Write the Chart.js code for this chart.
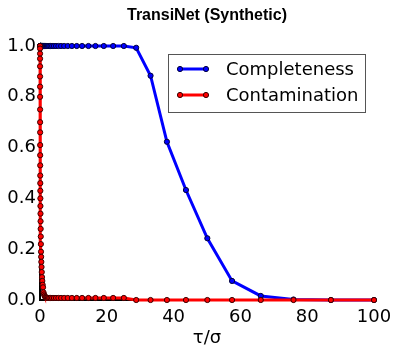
<!DOCTYPE html>
<html>
<head>
<meta charset="utf-8">
<script src="https://cdn.jsdelivr.net/npm/chart.js@4.4.1/dist/chart.umd.min.js"></script>
<style>
  body { margin: 0; background: #fff; }
  #grafica { display: block; }
</style>
</head>
<body>
<canvas id="grafica" width="399" height="354"></canvas>
<script>
// valores de tau/sigma (eje x)
const tau = [0.011, 0.0126, 0.0145, 0.017, 0.019, 0.022, 0.025, 0.029, 0.033, 0.038,
  0.044, 0.050, 0.058, 0.066, 0.076, 0.087, 0.100, 0.115, 0.132, 0.151,
  0.174, 0.200, 0.229, 0.263, 0.302, 0.347, 0.398, 0.457, 0.525, 0.603,
  0.692, 0.794, 0.912, 1.05, 1.20, 1.38, 1.58, 1.82, 2.09, 2.40,
  2.75, 3.16, 3.63, 4.17, 4.79, 5.50, 6.31, 7.24, 8.32, 9.55,
  11.0, 12.6, 14.5, 16.6, 19.1, 21.9, 25.1, 28.8, 33.1, 38.0,
  43.7, 50.1, 57.5, 66.1, 75.9, 87.1, 100];

const completeness = [1, 1, 1, 1, 1, 1, 1, 1, 1, 1,
  1, 1, 1, 1, 1, 1, 1, 1, 1, 1,
  1, 1, 1, 1, 1, 1, 1, 1, 1, 1,
  1, 1, 1, 1, 1, 1, 1, 1, 1, 1,
  1, 1, 1, 1, 1, 1, 1, 1, 1, 1,
  1, 1, 1, 1, 1, 1, 1, 0.993, 0.883, 0.623,
  0.433, 0.243, 0.075, 0.016, 0.002, 0.0, 0.0];

const contamination = [1.0, 0.99, 0.97, 0.95, 0.92, 0.88, 0.84, 0.80, 0.75, 0.70,
  0.66, 0.61, 0.57, 0.53, 0.49, 0.46, 0.43, 0.40, 0.37, 0.34,
  0.31, 0.28, 0.25, 0.22, 0.19, 0.17, 0.15, 0.13, 0.11, 0.09,
  0.075, 0.06, 0.05, 0.03, 0.022, 0.016, 0.012, 0.01, 0.009, 0.008,
  0.008, 0.008, 0.008, 0.008, 0.008, 0.008, 0.008, 0.008, 0.008, 0.008,
  0.008, 0.008, 0.008, 0.008, 0.008, 0.008, 0.008, 0.0, 0.0, 0.0,
  0.0, 0.0, 0.0, 0.0, 0.0, 0.0, 0.0];

const xTicks = [0, 20, 40, 60, 80, 100];
const yTicks = [0.0, 0.2, 0.4, 0.6, 0.8, 1.0];

const fuente = 'DejaVu Sans';

function puntos(ys) {
  return tau.map(function (x, i) { return { x: x, y: ys[i] }; });
}

// leyenda con recuadro dentro del area de la grafica
const leyendaCaja = {
  id: 'leyendaCaja',
  afterDatasetsDraw(chart) {
    const ctx = chart.ctx;
    const x0 = 168, y0 = 54, w = 197, h = 58;
    ctx.save();
    ctx.fillStyle = '#fff';
    ctx.fillRect(x0, y0, w, h);
    ctx.strokeStyle = '#555';
    ctx.lineWidth = 1;
    ctx.strokeRect(x0 + 0.5, y0 + 0.5, w, h);
    chart.data.datasets.forEach(function (ds, i) {
      const yy = 69 + i * 26;
      ctx.strokeStyle = ds.borderColor;
      ctx.lineWidth = 3;
      ctx.beginPath();
      ctx.moveTo(180, yy);
      ctx.lineTo(206, yy);
      ctx.stroke();
      [180, 206].forEach(function (px) {
        ctx.beginPath();
        ctx.arc(px, yy, 2.6, 0, Math.PI * 2);
        ctx.fillStyle = ds.pointBackgroundColor;
        ctx.fill();
        ctx.lineWidth = 1;
        ctx.strokeStyle = ds.pointBorderColor;
        ctx.stroke();
      });
      ctx.fillStyle = '#000';
      ctx.font = '18px "' + fuente + '"';
      ctx.textBaseline = 'middle';
      ctx.textAlign = 'left';
      ctx.fillText(ds.label, 226, yy + 1);
    });
    ctx.restore();
  }
};

const config = {
  type: 'line',
  data: {
    datasets: [{
      label: 'Completeness',
      data: puntos(completeness),
      borderColor: '#0000ff',
      borderWidth: 3,
      pointRadius: 2.6,
      pointBorderWidth: 1,
      pointBackgroundColor: '#0000ff',
      pointBorderColor: '#00003a',
      tension: 0,
      clip: false,
      order: 1
    }, {
      label: 'Contamination',
      data: puntos(contamination),
      borderColor: '#ff0000',
      borderWidth: 3,
      pointRadius: 2.6,
      pointBorderWidth: 1,
      pointBackgroundColor: '#ff0000',
      pointBorderColor: '#3a0000',
      tension: 0,
      clip: false,
      order: 0
    }]
  },
  options: {
    responsive: false,
    animation: false,
    layout: { padding: { left: 0, right: 25, top: 0, bottom: 5 } },
    scales: {
      x: {
        type: 'linear',
        min: 0,
        max: 100,
        afterBuildTicks: function (s) { s.ticks = xTicks.map(function (v) { return { value: v }; }); },
        afterFit: function (s) { s.height = 49; },
        grid: { display: false, drawTicks: false },
        border: { display: true, color: '#000', width: 2 },
        ticks: { color: '#000', font: { family: fuente, size: 18 }, padding: 7, maxRotation: 0 },
        title: { display: true, text: 'τ/σ', color: '#000', font: { family: fuente, size: 18 }, padding: { top: 1, bottom: 0 } }
      },
      y: {
        min: 0,
        max: 1,
        afterBuildTicks: function (s) { s.ticks = yTicks.map(function (v) { return { value: v }; }); },
        afterFit: function (s) { s.width = 40; },
        grid: { display: false, drawTicks: false },
        border: { display: true, color: '#000', width: 2 },
        ticks: {
          color: '#000',
          font: { family: fuente, size: 18 },
          padding: 4,
          callback: function (v) { return Number(v).toFixed(1); }
        }
      }
    },
    plugins: {
      legend: { display: false },
      tooltip: { enabled: false },
      title: {
        display: true,
        fullSize: false,
        text: 'TransiNet (Synthetic)',
        color: '#000',
        font: { family: 'Liberation Sans', size: 16, weight: 'bold' },
        padding: { top: 6, bottom: 20.8 }
      }
    }
  },
  plugins: [leyendaCaja]
};

const myChart = new Chart(document.getElementById('grafica'), config);
</script>
</body>
</html>
